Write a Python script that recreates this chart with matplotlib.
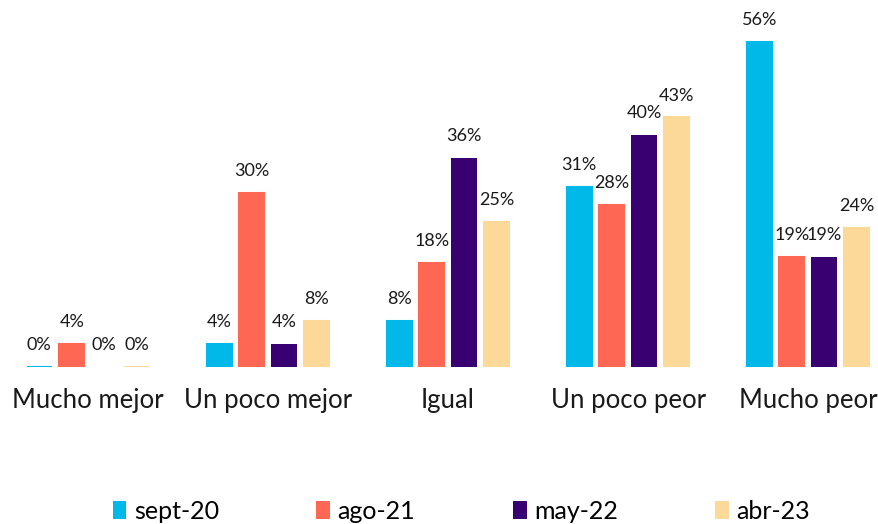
import numpy as np
import matplotlib.pyplot as plt
from matplotlib.patches import Patch

plt.rcParams['font.family'] = ['Lato', 'DejaVu Sans']

categories = ['Mucho mejor', 'Un poco mejor', 'Igual', 'Un poco peor', 'Mucho peor']
series = ['sept-20', 'ago-21', 'may-22', 'abr-23']
values = {
    'sept-20': [0, 4, 8, 31, 56],
    'ago-21': [4, 30, 18, 28, 19],
    'may-22': [0, 4, 36, 40, 19],
    'abr-23': [0, 8, 25, 43, 24],
}
colors = ['#00B9E8', '#FF6755', '#380070', '#FCD899']
edge_widths = [1.5, 1.5, 0, 1.5]  # may-22 has no visible line at 0

fig = plt.figure(figsize=(8.79, 5.24), dpi=100)
ax = fig.add_axes([0, 0.2996, 1, 0.6867])

x = np.arange(len(categories))
slot = 0.1806
for i, (name, c) in enumerate(zip(series, colors)):
    pos = x + (i - 1.5) * slot
    vals = values[name]
    lw = edge_widths[i]
    w = 0.138 if lw else 0.146
    ax.bar(pos, vals, width=w, color=c, edgecolor=c, linewidth=lw)
    for px, v in zip(pos, vals):
        ax.annotate(f'{v}%', (px, v), xytext=(0, 10), textcoords='offset points',
                    ha='center', va='bottom', fontsize=13, color='#1a1a1a')

ax.set_xlim(-0.489, 4.394)
ax.set_ylim(0, 62)
ax.set_xticks(x)
ax.set_xticklabels(categories, fontsize=18.5, color='#1a1a1a')
ax.tick_params(axis='x', length=0, pad=15)
ax.set_yticks([])
for s in ax.spines.values():
    s.set_visible(False)

handles = [Patch(facecolor=c, label=n) for n, c in zip(series, colors)]
fig.legend(handles=handles, loc='center', bbox_to_anchor=(0.525, 0.024), ncol=4,
           frameon=False, fontsize=18, handlelength=0.55, handleheight=0.7,
           handletextpad=0.3, columnspacing=3.9)

fig.savefig('out.png', dpi=100)
